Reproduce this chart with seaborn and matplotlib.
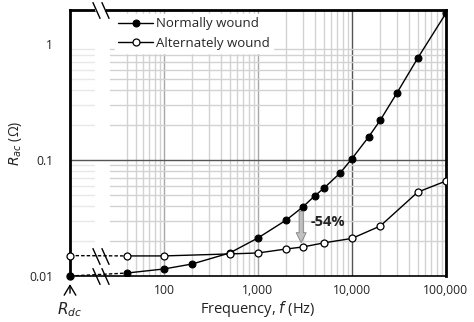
import numpy as np
import pandas as pd
import matplotlib
matplotlib.use("Agg")
import matplotlib.pyplot as plt
import seaborn as sns
from matplotlib.transforms import blended_transform_factory

# ---- data ----
normal_freq = [40, 100, 200, 500, 1000, 2000, 3000, 4000, 5000, 7500,
               10000, 15000, 20000, 30000, 50000, 100000]
normal_r = [0.0106, 0.0115, 0.0127, 0.0158, 0.0213, 0.0304, 0.0394, 0.049,
            0.057, 0.0775, 0.103, 0.158, 0.221, 0.378, 0.757, 1.85]
alt_freq = [40, 100, 500, 1000, 2000, 3000, 5000, 10000, 20000, 50000, 100000]
alt_r = [0.0149, 0.0149, 0.0155, 0.0158, 0.0171, 0.0178, 0.0193, 0.0211,
         0.027, 0.0529, 0.066]
rdc_normal = 0.010
rdc_alt = 0.015
series_names = ["Normally wound", "Alternately wound"]
xtick_vals = [100, 1000, 10000, 100000]
xtick_labels = ["100", "1,000", "10,000", "100,000"]
ytick_vals = [0.01, 0.1, 1]
ytick_labels = ["0.01", "0.1", "1"]
annot_freq = 3000
annot_text = "-54%"

# ---- layout ----
RDC_X = 10          # position of R_dc column (left edge)
XMAX = 1e5
YMIN, YMAX = 0.01, 1.97
BREAK1, BREAK2 = 19.0, 23.5

sns.set_theme(style="white")
plt.rcParams['font.family'] = ['Open Sans', 'DejaVu Sans']
plt.rcParams['mathtext.fontset'] = 'dejavusans'

fig = plt.figure(figsize=(4.74, 3.22), dpi=100)
ax = fig.add_axes([70 / 474, 46 / 322, 376 / 474, 266 / 322])
ax.set_xscale('log')
ax.set_yscale('log')
ax.set_xlim(RDC_X, XMAX)
ax.set_ylim(YMIN, YMAX)

minor_c = '#d2d2d2'
major_c = '#a8a8a8'
dark_c = '#555555'
faint_c = '#e8e8e8'

# vertical grid lines (from 40 Hz onward)
vlines = []
for dec in [10, 100, 1000, 10000]:
    for m in range(2, 10):
        v = dec * m
        if v >= 40:
            vlines.append(v)
for v in vlines:
    ax.axvline(v, color=minor_c, lw=1.0, zorder=0)
ax.axvline(100, color=major_c, lw=1.0, zorder=0)
ax.axvline(1000, color=major_c, lw=1.0, zorder=0)
ax.axvline(10000, color=dark_c, lw=1.0, zorder=0)

# horizontal grid lines
def xfrac(f):
    return (np.log10(f) - np.log10(RDC_X)) / (np.log10(XMAX) - np.log10(RDC_X))

hlines = [0.01 * m for m in range(2, 10)] + [0.1 * m for m in range(2, 10)]
for h in hlines:
    ax.axhline(h, xmin=xfrac(BREAK2 + 3), xmax=1, color=minor_c, lw=1.0, zorder=0)
    ax.axhline(h, xmin=0, xmax=xfrac(BREAK1 - 1), color=faint_c, lw=1.0, zorder=0)
ax.axhline(0.1, xmin=0, xmax=1, color=dark_c, lw=1.0, zorder=0)

# series through seaborn
df_n = pd.DataFrame({"f": normal_freq, "r": normal_r})
df_a = pd.DataFrame({"f": alt_freq, "r": alt_r})
sns.lineplot(data=df_n, x="f", y="r", ax=ax, color='black', lw=1.0,
             marker='o', markersize=5, markerfacecolor='black',
             markeredgecolor='black', label=series_names[0], zorder=4,
             estimator=None)
sns.lineplot(data=df_a, x="f", y="r", ax=ax, color='black', lw=1.0,
             marker='o', markersize=5, markerfacecolor='white',
             markeredgecolor='black', markeredgewidth=0.9,
             label=series_names[1], zorder=4, estimator=None)

# dashed segments from R_dc to first measured point
ax.plot([RDC_X, normal_freq[0]], [rdc_normal, normal_r[0]], ls=(0, (2.5, 1.5)),
        color='black', lw=1.0, zorder=3)
ax.plot([RDC_X, alt_freq[0]], [rdc_alt, alt_r[0]], ls=(0, (2.5, 1.5)),
        color='black', lw=1.0, zorder=3)
ax.plot([RDC_X], [rdc_normal], marker='o', ms=5, mfc='black', mec='black',
        zorder=6, clip_on=False)
ax.plot([RDC_X], [rdc_alt], marker='o', ms=5, mfc='white', mec='black',
        mew=0.9, zorder=6, clip_on=False)

# break marks
slash = [(-0.45, 1), (0.45, -1)]
trans_top = blended_transform_factory(ax.transData, ax.transAxes)
for bx in [BREAK1, BREAK2]:
    ax.plot([bx], [1.0], marker=slash, ms=12, mew=1.0, color='black',
            transform=trans_top, clip_on=False, zorder=7)
    ax.plot([bx], [rdc_normal * 1.0], marker=slash, ms=12, mew=1.0,
            color='black', clip_on=False, zorder=7)
    ax.plot([bx], [rdc_alt], marker=slash, ms=12, mew=1.0, color='black',
            clip_on=False, zorder=7)

# spines
for s in ['left', 'top', 'right']:
    ax.spines[s].set_linewidth(2.0)
    ax.spines[s].set_color('black')
ax.spines['bottom'].set_linewidth(1.2)
ax.spines['bottom'].set_color('black')
# white gap in the top spine between the break marks
ax.plot([BREAK1 * 1.03, BREAK2 / 1.03], [1.0, 1.0], color='white', lw=3.0,
        transform=trans_top, clip_on=False, zorder=6)

# ticks
ax.set_xticks(xtick_vals)
ax.set_xticklabels(xtick_labels)
ax.set_xticks([], minor=True)
ax.set_yticks(ytick_vals)
ax.set_yticklabels(ytick_labels)
ax.set_yticks([], minor=True)
ax.tick_params(axis='x', length=0, pad=6, labelsize=8.7, colors='#222222')
ax.tick_params(axis='y', direction='in', length=4, width=1, pad=12,
               labelsize=8.7, colors='black', labelcolor='#222222')

ax.set_xlabel("Frequency, $\\mathit{f}$ (Hz)", fontsize=10.5, labelpad=1,
              color='#222222')
ax.set_ylabel("$\\mathit{R}_{ac}$ (Ω)", fontsize=10, labelpad=4,
              color='#222222')

# R_dc marker below axis
ax.annotate("", xy=(0.0, -0.02), xytext=(0.0, -0.075),
            xycoords='axes fraction', textcoords='axes fraction',
            arrowprops=dict(arrowstyle='->,head_length=0.5,head_width=0.3',
                            color='black', lw=1.0, mutation_scale=14))
ax.text(0.0, -0.125, "$\\mathit{R}_{dc}$", transform=ax.transAxes,
        ha='center', va='center', fontsize=11, color='#222222')

# -54% annotation
i_n = normal_freq.index(annot_freq)
i_a = alt_freq.index(annot_freq)
ax.annotate("", xy=(annot_freq * 0.96, alt_r[i_a] * 1.03),
            xytext=(annot_freq * 0.96, normal_r[i_n] * 0.97),
            arrowprops=dict(arrowstyle='simple,head_width=0.6,head_length=0.6,tail_width=0.25',
                            fc='#c0c0c0', ec='#808080', lw=0.6),
            zorder=5)
ax.text(annot_freq * 1.2, 0.0292, annot_text, fontsize=10.5, fontweight='bold',
        ha='left', va='center', color='#222222', zorder=6)

# legend
leg = ax.legend(loc='upper left', bbox_to_anchor=(0.12, 0.985), frameon=True,
                fontsize=9.5, handlelength=2.6, handletextpad=0.25,
                borderpad=0.25, labelspacing=0.5, borderaxespad=0.0)
leg.get_frame().set_facecolor('white')
leg.get_frame().set_edgecolor('white')
leg.get_frame().set_alpha(1.0)
leg.set_zorder(8)

fig.savefig("out.png", dpi=100)
